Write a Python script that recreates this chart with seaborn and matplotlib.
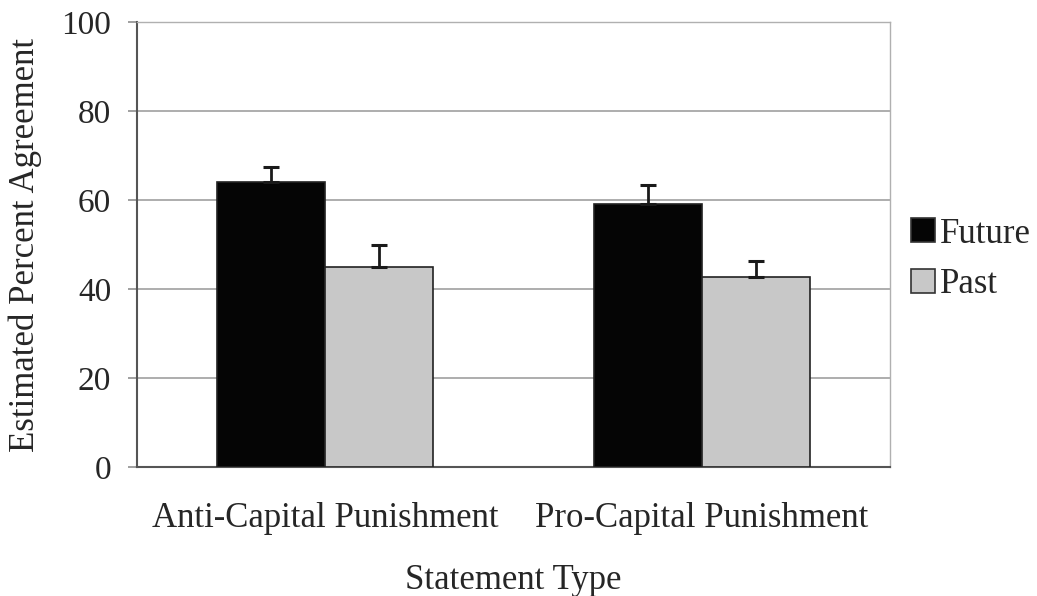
import matplotlib
matplotlib.use("Agg")
import matplotlib.pyplot as plt
import seaborn as sns
import pandas as pd
import numpy as np
from matplotlib.ticker import FixedLocator

categories = ["Anti-Capital Punishment", "Pro-Capital Punishment"]
groups = ["Future", "Past"]
future_vals = [64.1, 59.0]
past_vals = [44.9, 42.8]
future_err = [3.4, 4.4]
past_err = [5.1, 3.5]

df = pd.DataFrame({
    "Statement Type": categories * 2,
    "Group": [groups[0]] * 2 + [groups[1]] * 2,
    "Value": future_vals + past_vals,
})

sns.set_style("white")
plt.rcParams["font.family"] = ["Liberation Serif", "DejaVu Serif"]

fig = plt.figure(figsize=(10.37, 5.96), dpi=100)
ax = fig.add_axes([0.1321, 0.2164, 0.8582 - 0.1321, 0.9631 - 0.2164])

palette = {"Future": "#050505", "Past": "#c8c8c8"}
sns.barplot(data=df, x="Statement Type", y="Value", hue="Group",
            order=categories, hue_order=groups, palette=palette,
            errorbar=None, width=0.574, edgecolor="#222222", linewidth=1.2,
            saturation=1, ax=ax, zorder=3)

errs = {"Future": future_err, "Past": past_err}
for container, g in zip(ax.containers, groups):
    xs = [p.get_x() + p.get_width() / 2 for p in container.patches]
    hs = [p.get_height() for p in container.patches]
    e = errs[g]
    ax.errorbar(xs, hs, yerr=[np.zeros(len(e)), e], fmt="none",
                ecolor="#1a1a1a", elinewidth=2, capsize=6, capthick=2.2, zorder=4)

ax.set_ylim(0, 100)
ax.set_xlim(-0.5, 1.5)
ax.set_yticks([0, 20, 40, 60, 80, 100])
ax.yaxis.grid(True, color="#a0a0a0", linewidth=1.2, zorder=0)
ax.set_axisbelow(True)

for s in ["top", "right"]:
    ax.spines[s].set_color("#b0b0b0")
    ax.spines[s].set_linewidth(1.0)
for s in ["left", "bottom"]:
    ax.spines[s].set_color("#555555")
    ax.spines[s].set_linewidth(1.5)

FS = 25
ax.xaxis.set_minor_locator(FixedLocator([-0.5, 0.5, 1.5]))
ax.tick_params(axis="x", which="major", length=0, pad=25, labelsize=FS)
ax.tick_params(axis="x", which="minor", length=8, width=1.3, color="#999999", direction="out")
ax.tick_params(axis="y", which="major", length=6.5, width=1.3, color="#999999", direction="out", labelsize=24, pad=12)
ax.tick_params(bottom=True, left=True)

ax.set_xlabel("Statement Type", fontsize=FS, labelpad=21)
ax.set_ylabel("Estimated Percent Agreement", fontsize=FS, labelpad=14)

leg = ax.legend(loc="center left", bbox_to_anchor=(1.028, 0.467), frameon=False,
                fontsize=FS, handlelength=0.68, handleheight=0.68, handletextpad=0.15,
                labelspacing=0.5, borderaxespad=0, borderpad=0)
for h in leg.legend_handles:
    h.set_edgecolor("#333333")

fig.savefig("out.png", dpi=100)
